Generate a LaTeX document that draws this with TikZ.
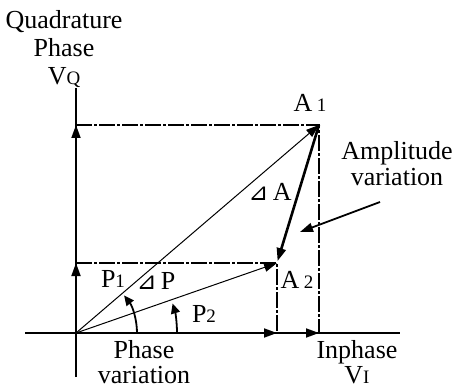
\documentclass[tikz,border=0pt]{standalone}
\usepackage{fontspec}
\setmainfont{Liberation Serif}
\newfontfamily\symfont{DejaVu Sans}
\usetikzlibrary{arrows.meta}
\newcommand{\sml}[1]{{\fontsize{9.5}{9.5}\selectfont #1}}
\newcommand{\dlt}{{\symfont\fontsize{12}{12}\selectfont ⊿}}

\begin{document}
\begin{tikzpicture}[
    x=0.5pt, y=-0.5pt,
    axis/.style={line width=0.9pt},
    proj/.style={line width=1pt, dash pattern=on 8pt off 1pt on 1.5pt off 1pt},
    tip/.style={-{Triangle[length=6.5pt,width=4.5pt]}},
    vec/.style={tip, line width=0.5pt},
    ampvec/.style={tip, line width=1.3pt},
    arcvec/.style={-{Triangle[length=5pt,width=4.5pt]}, line width=0.9pt},
    lbl/.style={font=\fontsize{13}{14}\selectfont, inner sep=0pt, anchor=base},
    lbls/.style={font=\fontsize{13}{14}\selectfont, inner sep=0pt, anchor=north, align=center}
]
\useasboundingbox (0,0) rectangle (455,390);

% Points
\coordinate (O) at (76,333);
\coordinate (A1) at (319,125);
\coordinate (A2) at (277,263);
\coordinate (Q1) at (O |- A1);
\coordinate (Q2) at (O |- A2);
\coordinate (I1) at (A1 |- O);
\coordinate (I2) at (A2 |- O);
\coordinate (xl) at (25,333);
\coordinate (xr) at (400,333);
\coordinate (yt) at (76,88);
\coordinate (yb) at (76,377);
\coordinate (avs) at (380,202);
\coordinate (ave) at (300,232);

% Axes
\draw[axis] (xl) -- (xr);
\draw[axis] (yb) -- (yt);
\draw[axis, tip] (O) -- (Q1);
\draw[axis, tip] (O) -- (Q2);
\draw[axis, tip] (O) -- (I1);
\draw[axis, tip] (O) -- (I2);

% Projections
\draw[proj] (Q1) -- (A1) -- (I1);
\draw[proj] (Q2) -- (A2) -- (I2);

% Vectors
\draw[vec] (O) -- (A1);
\draw[vec] (O) -- (A2);
\draw[ampvec, shorten >=1pt] (A1) -- (A2);
\draw[axis, tip] (avs) -- (ave);

% Phase arcs
\draw[arcvec] (137,333) arc[start angle=0, end angle=-38, radius=61];
\draw[arcvec] (177,333) arc[start angle=0, end angle=-17, radius=101];

% Labels
\node[lbls] (quad) at (64,10) {Quadrature\\Phase\\V\sml{Q}};
\node[lbl] (a1) at (310,112) {A\,\sml{1}};
\node[lbls] (amp) at (397,141) {Amplitude\\[-1pt]variation};
\node[lbl] (da) at (270,200) {\dlt\,A};
\node[lbl] (p1) at (113,287) {P\sml{1}};
\node[lbl] (dp) at (156,289) {\dlt\,P};
\node[lbl] (a2) at (297,288) {A\,\sml{2}};
\node[lbl] (p2) at (204,322) {P\sml{2}};
\node[lbls] (phase) at (144,340) {Phase\\[-1.5pt]variation};
\node[lbls] (inph) at (357,340) {Inphase\\[-1.5pt]V\sml{I}};
\end{tikzpicture}
\end{document}
